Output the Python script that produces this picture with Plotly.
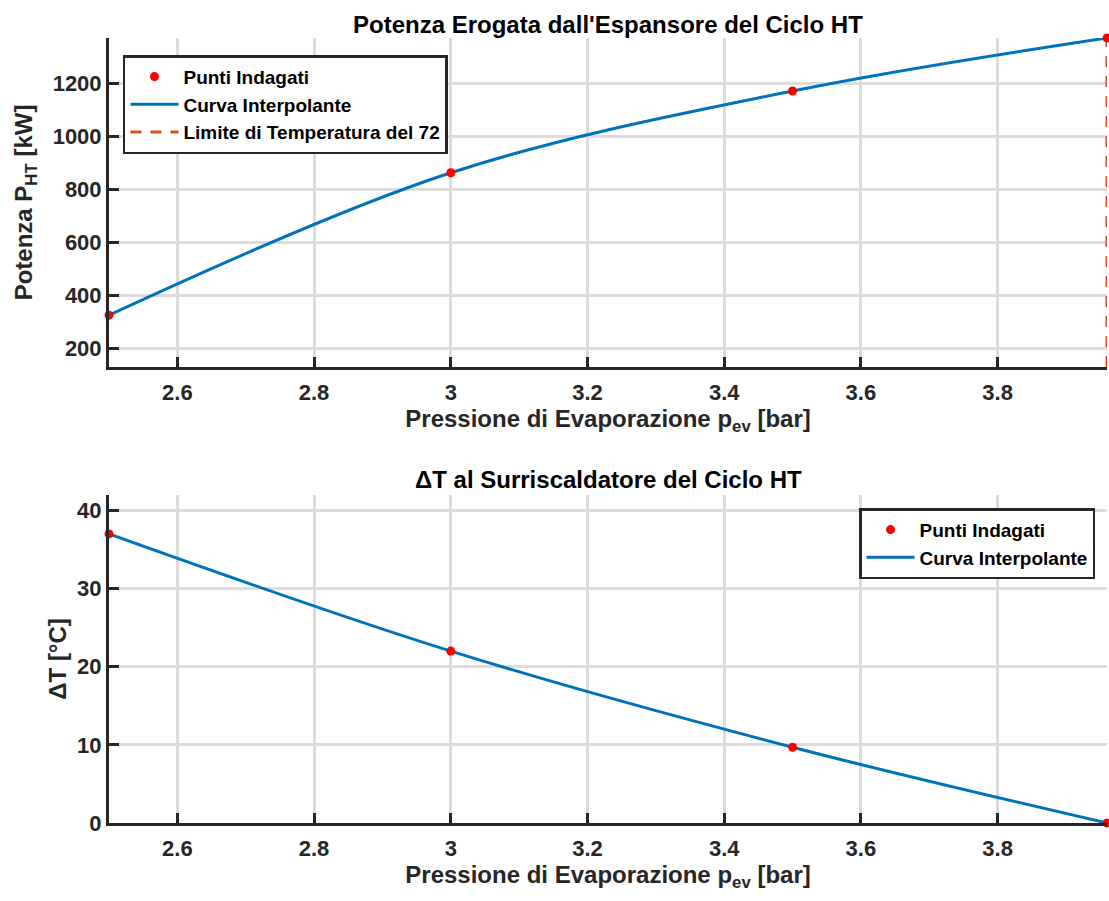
import plotly.graph_objects as go

# Pressione di evaporazione [bar] dei punti indagati
p_ev = [2.5, 3.0, 3.5, 3.96]
# Potenza erogata dall'espansore [kW]
potenza = [325, 862, 1170, 1370]
# Delta T al surriscaldatore [°C]
delta_t = [37.0, 22.0, 9.7, 0.0]

# Limite di temperatura
p_limite = 3.96
pot_range = [130, 1370]
dt_range = [0, 42]

x_ticks = [2.6, 2.8, 3.0, 3.2, 3.4, 3.6, 3.8]
x_ticktext = ["2.6", "2.8", "3", "3.2", "3.4", "3.6", "3.8"]
pot_ticks = [200, 400, 600, 800, 1000, 1200]
dt_ticks = [0, 10, 20, 30, 40]

BLUE = "#0072BD"
ORANGE = "#D95319"
RED = "#FF0000"
AX = "#262626"
GRID = "#dcdcdc"
FONT = "Liberation Sans, Arial, sans-serif"

fig = go.Figure()

# --- pannello superiore: potenza ---
fig.add_trace(go.Scatter(x=p_ev, y=potenza, mode="lines", line=dict(color=BLUE, width=3, shape="spline"),
                         name="Curva Interpolante", xaxis="x", yaxis="y", legend="legend",
                         legendrank=2))
fig.add_trace(go.Scatter(x=[p_limite, p_limite], y=pot_range, mode="lines",
                         line=dict(color=ORANGE, width=3, dash="11px,9px"),
                         name="Limite di Temperatura del 72", xaxis="x", yaxis="y", legend="legend",
                         legendrank=3, cliponaxis=False))
fig.add_trace(go.Scatter(x=p_ev, y=potenza, mode="markers", marker=dict(color=RED, size=9),
                         name="Punti Indagati", xaxis="x", yaxis="y", legend="legend",
                         legendrank=1, cliponaxis=False))

# --- pannello inferiore: delta T ---
fig.add_trace(go.Scatter(x=p_ev, y=delta_t, mode="lines", line=dict(color=BLUE, width=3, shape="spline"),
                         name="Curva Interpolante", xaxis="x2", yaxis="y2", legend="legend2",
                         legendrank=2))
fig.add_trace(go.Scatter(x=p_ev, y=delta_t, mode="markers", marker=dict(color=RED, size=9),
                         name="Punti Indagati", xaxis="x2", yaxis="y2", legend="legend2",
                         legendrank=1, cliponaxis=False))

axis_common = dict(
    showline=True, linecolor=AX, linewidth=3, mirror=False,
    ticks="inside", ticklen=10, tickwidth=3, tickcolor=AX,
    showgrid=True, gridcolor=GRID, gridwidth=2.5, zeroline=False,
    tickfont=dict(family=FONT, size=22, color=AX, weight="bold"),
)
title_font = dict(family=FONT, size=24, color=AX, weight="bold")
xtitle = dict(text="Pressione di Evaporazione p<sub>ev</sub> [bar]", font=title_font)
legend_font = dict(family=FONT, size=19, color="black", weight="bold")

fig.update_layout(
    width=1109, height=901,
    margin=dict(l=109, r=2, t=38, b=78),
    paper_bgcolor="white", plot_bgcolor="white",
    font=dict(family=FONT, color=AX),
    xaxis=dict(domain=[0, 1], range=[2.5, p_limite], tickvals=x_ticks, ticktext=x_ticktext,
               anchor="y", ticklabelstandoff=4, title=dict(xtitle, standoff=6), **axis_common),
    yaxis=dict(domain=[0.581, 1], range=pot_range, tickvals=pot_ticks, anchor="x",
               title=dict(text="Potenza P<sub>HT</sub> [kW]", standoff=14, font=title_font),
               **axis_common),
    xaxis2=dict(domain=[0, 1], range=[2.5, p_limite], tickvals=x_ticks, ticktext=x_ticktext,
                anchor="y2", ticklabelstandoff=4, title=dict(xtitle, standoff=6), **axis_common),
    yaxis2=dict(domain=[0, 0.418], range=dt_range, tickvals=dt_ticks, anchor="x2",
                title=dict(text="ΔT [°C]", standoff=4, font=title_font),
                **axis_common),
    legend=dict(x=0.014, y=0.978, xanchor="left", yanchor="top",
                xref="paper", yref="paper",
                bgcolor="white", bordercolor=AX, borderwidth=2.5,
                font=legend_font, tracegroupgap=0, itemwidth=48),
    legend2=dict(x=0.988, y=0.401, xanchor="right", yanchor="top",
                 xref="paper", yref="paper",
                 bgcolor="white", bordercolor=AX, borderwidth=2.5,
                 font=legend_font, tracegroupgap=0, itemwidth=48),
    showlegend=True,
    annotations=[
        dict(text="Potenza Erogata dall'Espansore del Ciclo HT", x=0.5, y=1, xref="paper", yref="paper",
             xanchor="center", yanchor="bottom", yshift=-2, showarrow=False,
             font=dict(family=FONT, size=24, color="black", weight="bold")),
        dict(text="ΔT al Surriscaldatore del Ciclo HT", x=0.5, y=0.418, xref="paper", yref="paper",
             xanchor="center", yanchor="bottom", yshift=0, showarrow=False,
             font=dict(family=FONT, size=24, color="black", weight="bold")),
    ],
)

fig.write_html("out.html")
